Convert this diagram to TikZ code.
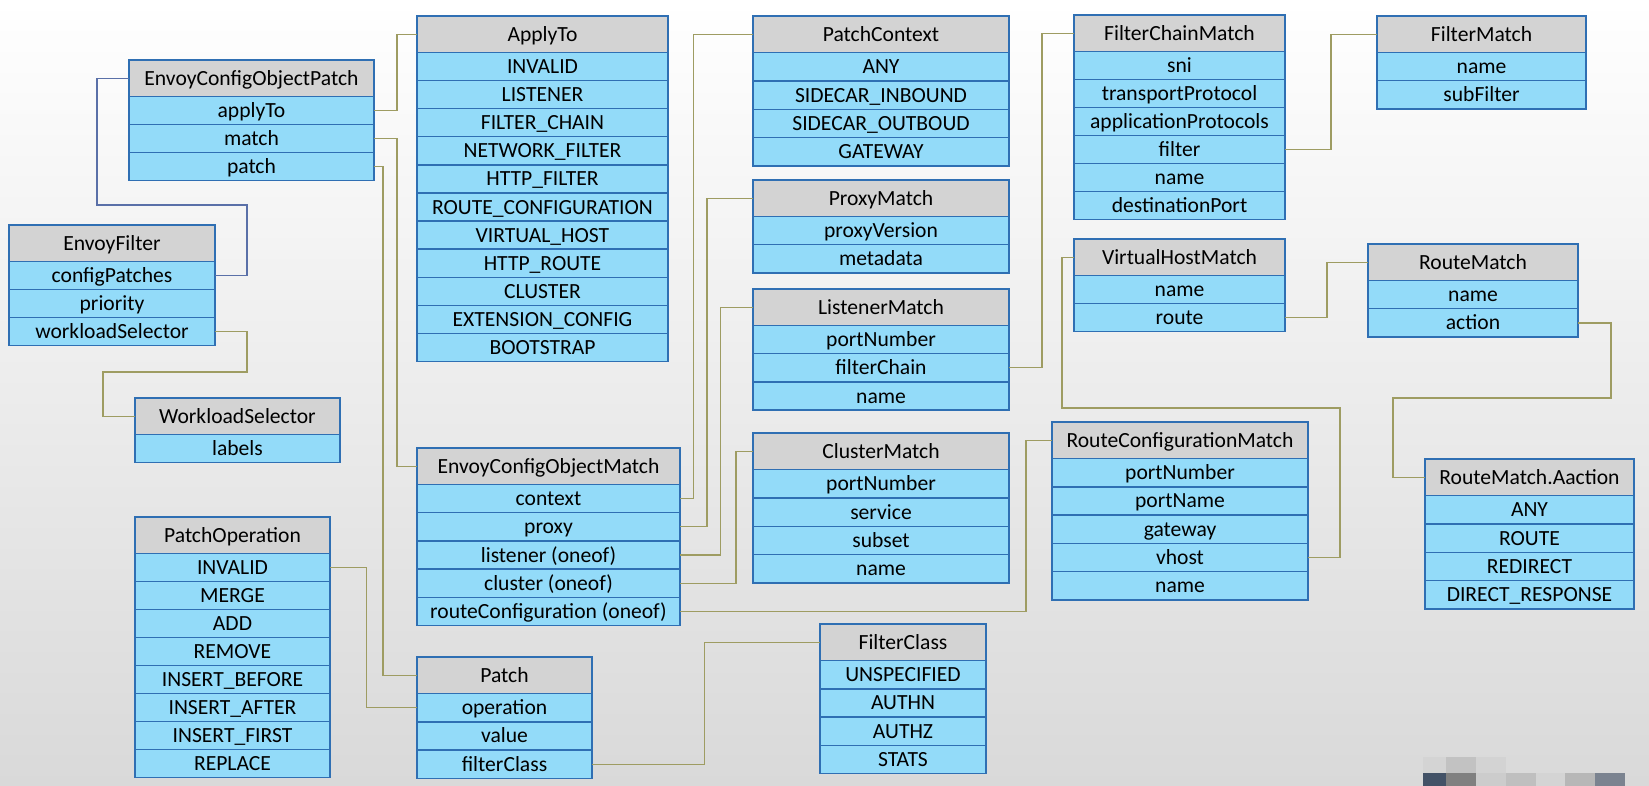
\documentclass[tikz,border=0pt]{standalone}
\usepackage{fontspec}
\setmainfont{Carlito}
\definecolor{hdrgray}{HTML}{D3D3D3}
\definecolor{rowblue}{HTML}{93DBF9}
\definecolor{edgeblue}{HTML}{2F6FB3}
\definecolor{wireolive}{HTML}{9E9C62}
\definecolor{wireblue}{HTML}{5A70A8}
\definecolor{bggray}{HTML}{D9D9D9}
\tikzset{
  cellbase/.style={draw=edgeblue, line width=1.4pt, inner sep=0pt, outer sep=0pt,
    anchor=north west, text=black, font=\fontsize{21.6}{24}\selectfont,
    text height=14pt, text depth=0pt, align=center},
  hdrcell/.style={cellbase, fill=hdrgray},
  rowcell/.style={cellbase, fill=rowblue},
  wire/.style={draw=wireolive, line width=1.2pt},
  bluewire/.style={draw=wireblue, line width=1.2pt},
}
\newcommand\classbox[7]{%
  \node[hdrcell, minimum width={(#3-#2)*1pt}, minimum height=36.5pt] (#1-h) at (#2,#4) {#6};
  \foreach \r [count=\i] in {#7} {
    \node[rowcell, minimum width={(#3-#2)*1pt}, minimum height={#5*1pt}] (#1-\i) at ({#2},{#4+36.5+(\i-1)*#5}) {\r};
  }%
}
\begin{document}
\begin{tikzpicture}[x=1pt,y=-1pt]
\useasboundingbox (0,0) rectangle (1649,786);
\shade[top color=white, bottom color=bggray] (0,0) rectangle (1649,786);
% mosaic
\fill[fill={rgb,255:red,67;green,82;blue,103}] (1423,772.7) rectangle (1446,786);
\fill[fill={rgb,255:red,128;green,128;blue,128}] (1446,772.7) rectangle (1476,786);
\fill[fill={rgb,255:red,204;green,204;blue,204}] (1476,772.7) rectangle (1506,786);
\fill[fill={rgb,255:red,191;green,191;blue,191}] (1506,772.7) rectangle (1536,786);
\fill[fill={rgb,255:red,212;green,212;blue,212}] (1536,772.7) rectangle (1565,786);
\fill[fill={rgb,255:red,183;green,183;blue,183}] (1565,772.7) rectangle (1595,786);
\fill[fill={rgb,255:red,123;green,131;blue,144}] (1595,772.7) rectangle (1625,786);
\fill[fill={rgb,255:red,212;green,212;blue,212}] (1423,756.7) rectangle (1446,772.7);
\fill[fill={rgb,255:red,194;green,194;blue,194}] (1446,756.7) rectangle (1476,772.7);
\fill[fill={rgb,255:red,211;green,211;blue,211}] (1476,756.7) rectangle (1506,772.7);

% boxes
\classbox{ecop}{129}{374}{60}{28}{EnvoyConfigObjectPatch}{applyTo,match,patch}
\classbox{ef}{9}{215}{225}{28}{EnvoyFilter}{configPatches,priority,workloadSelector}
\classbox{ws}{135}{340}{398}{28}{WorkloadSelector}{labels}
\classbox{at}{417}{668}{16}{28.1}{ApplyTo}{INVALID,LISTENER,FILTER\_CHAIN,NETWORK\_FILTER,HTTP\_FILTER,ROUTE\_CONFIGURATION,VIRTUAL\_HOST,HTTP\_ROUTE,CLUSTER,EXTENSION\_CONFIG,BOOTSTRAP}
\classbox{pc}{753}{1009}{16}{28.4}{PatchContext}{ANY,SIDECAR\_INBOUND,SIDECAR\_OUTBOUD,GATEWAY}
\classbox{pm}{753}{1009}{180}{28.2}{ProxyMatch}{proxyVersion,metadata}
\classbox{lm}{753}{1009}{289}{28.2}{ListenerMatch}{portNumber,filterChain,name}
\classbox{fcm}{1074}{1285}{15}{28}{FilterChainMatch}{sni,transportProtocol,applicationProtocols,filter,name,destinationPort}
\classbox{fm}{1377}{1586}{16}{28.3}{FilterMatch}{name,subFilter}
\classbox{vhm}{1074}{1285}{239}{28}{VirtualHostMatch}{name,route}
\classbox{rm}{1368}{1578}{244}{28.3}{RouteMatch}{name,action}
\classbox{ecom}{417}{680}{448}{28.2}{EnvoyConfigObjectMatch}{context,proxy,listener (oneof),cluster (oneof),routeConfiguration (oneof)}
\classbox{cm}{753}{1009}{433}{28.4}{ClusterMatch}{portNumber,service,subset,name}
\classbox{rcm}{1052}{1308}{422}{28.3}{RouteConfigurationMatch}{portNumber,portName,gateway,vhost,name}
\classbox{rma}{1425}{1634}{459}{28.4}{RouteMatch.Aaction}{ANY,ROUTE,REDIRECT,DIRECT\_RESPONSE}
\classbox{po}{135}{330}{517}{28}{PatchOperation}{INVALID,MERGE,ADD,REMOVE,INSERT\_BEFORE,INSERT\_AFTER,INSERT\_FIRST,REPLACE}
\classbox{p}{417}{592}{657}{28.3}{Patch}{operation,value,filterClass}
\classbox{fc}{820}{986}{624}{28.3}{FilterClass}{UNSPECIFIED,AUTHN,AUTHZ,STATS}

% connectors
\draw[bluewire] (ef-1.east) -| (247,205) -- (97,205) |- (ecop-h.west);
\draw[wire] (ef-3.east) -| (247,372) -- (103,372) |- (ws-h.west);
\draw[wire] (ecop-1.east) -- ++(23,0) |- (at-h.west);
\draw[wire] (ecop-2.east) -- ++(23,0) |- (ecom-h.west);
\draw[wire] (ecop-3.east) -- ++(9,0) |- (p-h.west);
\draw[wire] (ecom-1.east) -- ++(13.6,0) |- (pc-h.west);
\draw[wire] (ecom-2.east) -- ++(27,0) |- (pm-h.west);
\draw[wire] (ecom-3.east) -- ++(40.5,0) |- (lm-h.west);
\draw[wire] (ecom-4.east) -- ++(56,0) |- (cm-h.west);
\draw[wire] (ecom-5.east) -- ++(346,0) |- (rcm-h.west);
\draw[wire] (lm-2.east) -- ++(33,0) |- (fcm-h.west);
\draw[wire] (fcm-4.east) -- ++(46,0) |- (fm-h.west);
\draw[wire] (vhm-2.east) -- ++(42,0) |- (rm-h.west);
\draw[wire] (rm-2.east) -| (1611,398) -- (1393,398) |- (rma-h.west);
\draw[wire] (rcm-4.east) -| (1340,408) -- (1062,408) |- (vhm-h.west);
\draw[wire] (po-1.east) -- ++(36.5,0) |- (p-1.west);
\draw[wire] (p-3.east) -- ++(112.5,0) |- (fc-h.west);
\end{tikzpicture}
\end{document}
